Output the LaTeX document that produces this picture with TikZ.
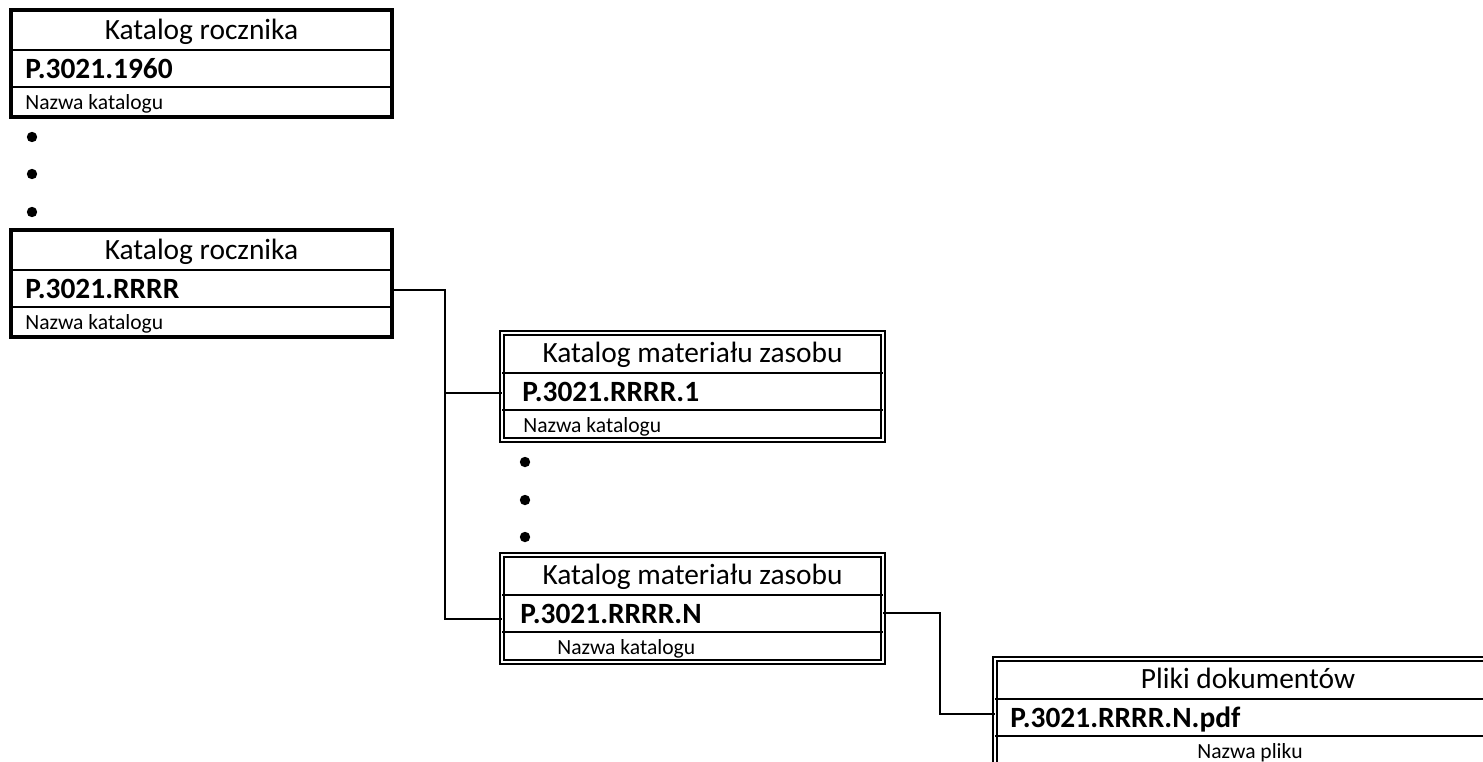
\documentclass[tikz,border=0pt]{standalone}
\usepackage{fontspec}
\setmainfont{Carlito}
\usetikzlibrary{calc}
\tikzset{
  boxthick/.style={draw=black, line width=1.7pt, inner sep=0pt, outer sep=0pt, minimum width=190.5pt, minimum height=53.5pt},
  boxdouble/.style={draw=black, double=white, double distance=0.8pt, line width=0.9pt, inner sep=0pt, outer sep=0pt, minimum width=190.5pt, minimum height=53.5pt},
  rowline/.style={draw=black, line width=1pt},
  conn/.style={draw=black, line width=1pt},
  headtxt/.style={anchor=base, inner sep=0pt, font=\fontsize{14.7pt}{17pt}\selectfont},
  boldtxt/.style={anchor=base west, inner sep=0pt, font=\fontsize{14.7pt}{17pt}\selectfont\bfseries},
  nametxt/.style={anchor=base west, inner sep=0pt, font=\fontsize{10.8pt}{13pt}\selectfont},
  dotmark/.style={fill=black, circle, inner sep=0pt, minimum size=5.2pt},
}
\begin{document}
\begin{tikzpicture}[x=0.5pt,y=-0.5pt]
\clip (0,0) rectangle (1483,761);
\fill[white] (0,0) rectangle (1483,761);

% Box 1
\node[boxthick] (b1) at (201.5,63.5) {};
\draw[rowline] (11,50) -- (392,50);
\draw[rowline] (11,87) -- (392,87);
\node[headtxt] (b1h) at (201.5,39) {Katalog rocznika};
\node[boldtxt] (b1b) at (25,78) {P.3021.1960};
\node[nametxt] (b1n) at (25,109) {Nazwa katalogu};

% dots 1
\node[dotmark] (d1) at (32,137) {};
\node[dotmark] (d2) at (32,174) {};
\node[dotmark] (d3) at (32,212) {};

% Box 2
\node[boxthick] (b2) at (201.5,283.5) {};
\draw[rowline] (11,270) -- (392,270);
\draw[rowline] (11,307) -- (392,307);
\node[headtxt] (b2h) at (201.5,259) {Katalog rocznika};
\node[boldtxt] (b2b) at (25,298) {P.3021.RRRR};
\node[nametxt] (b2n) at (25,329) {Nazwa katalogu};

% Box 3
\node[boxdouble] (b3) at (692.5,386.5) {};
\draw[rowline] (502,373) -- (883,373);
\draw[rowline] (502,410) -- (883,410);
\node[headtxt] (b3h) at (692.5,362) {Katalog materiału zasobu};
\node[boldtxt] (b3b) at (522,401) {P.3021.RRRR.1};
\node[nametxt] (b3n) at (523,432) {Nazwa katalogu};

% dots 2
\node[dotmark] (d4) at (525,462) {};
\node[dotmark] (d5) at (525,500) {};
\node[dotmark] (d6) at (525,537) {};

% Box 4
\node[boxdouble] (b4) at (692.5,608.5) {};
\draw[rowline] (502,595) -- (883,595);
\draw[rowline] (502,632) -- (883,632);
\node[headtxt] (b4h) at (692.5,584) {Katalog materiału zasobu};
\node[boldtxt] (b4b) at (520,623) {P.3021.RRRR.N};
\node[nametxt] (b4n) at (557,654) {Nazwa katalogu};

% Box 5
\node[boxdouble, minimum width=254pt] (b5) at (1249,712.5) {};
\draw[rowline] (995,699) -- (1503,699);
\draw[rowline] (995,736) -- (1503,736);
\node[headtxt] (b5h) at (1248,688) {Pliki dokumentów};
\node[boldtxt] (b5b) at (1010,727) {P.3021.RRRR.N.pdf};
\node[anchor=base, inner sep=0pt, font=\fontsize{10.8pt}{13pt}\selectfont] (b5n) at (1250,758) {Nazwa pliku};

% connectors
\coordinate (p1) at (445,290);
\coordinate (p2) at (445,393);
\coordinate (p3) at (445,619);
\coordinate (p4) at (940,613);
\coordinate (p5) at (940,714);
\draw[conn] (b2.east |- p1) -- (p1) -- (p3) -- (b4.west |- p3);
\draw[conn] (p2) -- (b3.west |- p2);
\draw[conn] (b4.east |- p4) -- (p4) -- (p5) -- (b5.west |- p5);
\end{tikzpicture}
\end{document}
